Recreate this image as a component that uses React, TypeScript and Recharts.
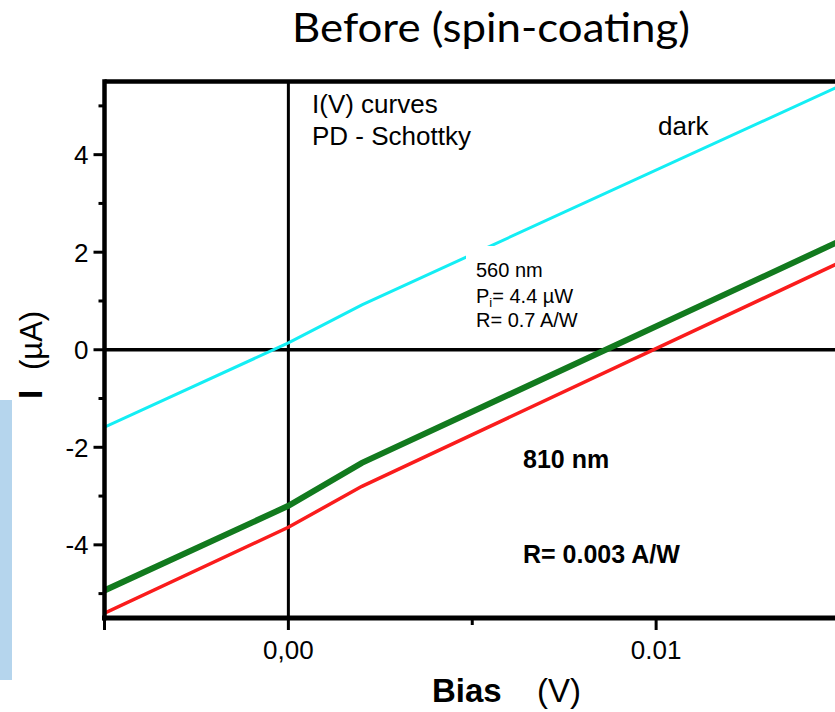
import React from "react";
import { LineChart, Line, XAxis, YAxis, ReferenceLine } from "recharts";

// Bias (V) break points of the measured curves
const bias = [-0.005, 0, 0.002, 0.015];
// Currents in µA
const darkCurrent = [-1.585, 0.14, 0.92, 5.41];
const greenCurrent = [-4.935, -3.2, -2.32, 2.23];
const redCurrent = [-5.4, -3.64, -2.8, 1.79];

const yTicks = [-5, -4, -3, -2, -1, 0, 1, 2, 3, 4, 5];
const xTicks = [-0.005, 0, 0.005, 0.01, 0.015];
const xMajorTicks = [-0.005, 0, 0.01, 0.015];
const xTickLabels: Record<string, string> = { "0": "0,00", "0.01": "0.01" };

const data = bias.map((b, i) => ({
  bias: b,
  dark: darkCurrent[i],
  green: greenCurrent[i],
  red: redCurrent[i],
}));

const FONT = "'Liberation Sans', Arial, Helvetica, sans-serif";

function YTick(props: any) {
  const { x, y, payload } = props;
  const v = payload.value;
  const major = Math.abs(v) % 2 === 0;
  return (
    <g>
      <line x1={x - (major ? 11 : 6)} x2={x} y1={y} y2={y} stroke="#000" strokeWidth={3} />
      {major && (
        <text x={x - 16} y={y} dy="0.36em" textAnchor="end" fontSize={26} fontFamily={FONT} fill="#000">
          {v}
        </text>
      )}
    </g>
  );
}

function XTick(props: any) {
  const { x, y, payload } = props;
  const v = payload.value;
  const major = xMajorTicks.includes(v);
  const label = xTickLabels[String(v)];
  return (
    <g>
      <line x1={x} x2={x} y1={y} y2={y + (major ? 12 : 7)} stroke="#000" strokeWidth={3} />
      {label && (
        <text x={x} y={y + 41} textAnchor="middle" fontSize={26} fontFamily={FONT} fill="#000">
          {label}
        </text>
      )}
    </g>
  );
}

export default function App() {
  return (
    <div
      style={{
        position: "absolute",
        left: 0,
        top: 0,
        width: 835,
        height: 712,
        overflow: "hidden",
        background: "#fff",
      }}
    >
      <LineChart
        width={850}
        height={712}
        data={data}
        margin={{ top: 81.5, right: 10, bottom: 64, left: 44.5 }}
      >
        <XAxis
          dataKey="bias"
          type="number"
          domain={[-0.005, 0.015]}
          ticks={xTicks}
          allowDataOverflow
          axisLine={{ stroke: "#000", strokeWidth: 5, strokeLinecap: "square" }}
          tickLine={false}
          tickSize={0}
          tickMargin={0}
          tick={<XTick />}
          height={30}
          interval={0}
        />
        <YAxis
          type="number"
          domain={[-5.5, 5.5]}
          ticks={yTicks}
          allowDataOverflow
          axisLine={{ stroke: "#000", strokeWidth: 4.5, strokeLinecap: "square" }}
          tickLine={false}
          tickSize={0}
          tickMargin={0}
          tick={<YTick />}
          width={60}
          interval={0}
        />
        <ReferenceLine y={5.5} stroke="#000" strokeWidth={4.5} />
        <ReferenceLine y={0} stroke="#000" strokeWidth={3.5} />
        <ReferenceLine x={0} stroke="#000" strokeWidth={3} />
        <Line type="linear" dataKey="dark" stroke="#14eef4" strokeWidth={3} dot={false} isAnimationActive={false} />
        <Line type="linear" dataKey="green" stroke="#127a1e" strokeWidth={6} dot={false} isAnimationActive={false} />
        <Line type="linear" dataKey="red" stroke="#fa1c1c" strokeWidth={3.5} dot={false} isAnimationActive={false} />
      </LineChart>
      <svg
        width={835}
        height={712}
        style={{ position: "absolute", left: 0, top: 0, pointerEvents: "none" }}
      >
        <rect x={0} y={400} width={12} height={280} fill="#b5d5ed" />
        <text x={292} y={42} fontSize={41} fontFamily="Lato, 'Open Sans', sans-serif" fill="#000" textLength={398} lengthAdjust="spacingAndGlyphs">
          Before (spin-coating)
        </text>
        <text x={312} y={113} fontSize={26} fontFamily={FONT} fill="#000">I(V) curves</text>
        <text x={312} y={145} fontSize={26} fontFamily={FONT} fill="#000">PD - Schottky</text>
        <text x={658} y={135} fontSize={26} fontFamily={FONT} fill="#000">dark</text>
        <rect x={466} y={246} width={120} height={88} fill="#fff" />
        <text x={476} y={277} fontSize={20} fontFamily={FONT} fill="#000">560 nm</text>
        <text x={476} y={303} fontSize={20} fontFamily={FONT} fill="#000">
          P<tspan fontSize={13} dy={4}>i</tspan>
          <tspan dy={-4}>= 4.4 µW</tspan>
        </text>
        <text x={476} y={327} fontSize={20} fontFamily={FONT} fill="#000">R= 0.7 A/W</text>
        <text x={523} y={468} fontSize={25} fontWeight="bold" fontFamily={FONT} fill="#000">810 nm</text>
        <text x={523} y={563} fontSize={25} fontWeight="bold" fontFamily={FONT} fill="#000">R= 0.003 A/W</text>
        <text x={432} y={702} fontSize={33} fontWeight="bold" fontFamily={FONT} fill="#000">Bias</text>
        <text x={537} y={702} fontSize={33} fontFamily={FONT} fill="#000">(V)</text>
        <text x={42} y={399} transform="rotate(-90, 42, 399)" fontSize={33} fontWeight="bold" fontFamily={FONT} fill="#000">I</text>
        <text x={42} y={370} transform="rotate(-90, 42, 370)" fontSize={31} fontFamily={FONT} fill="#000">(µA)</text>
      </svg>
    </div>
  );
}
